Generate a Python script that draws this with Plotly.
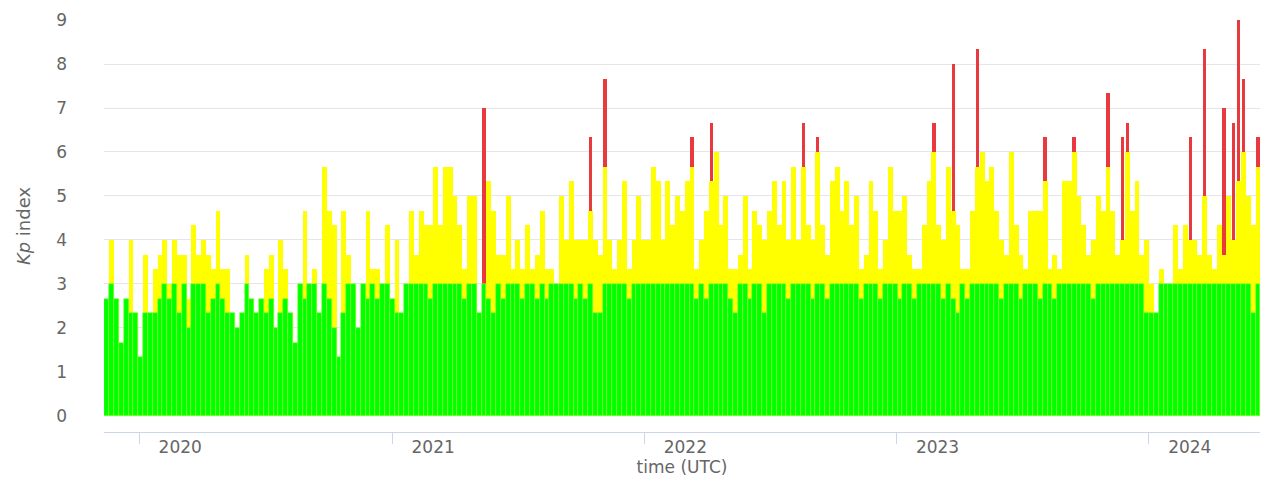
import datetime as dt
import plotly.graph_objects as go

# ---- data (weekly maximum Kp) ----
start_date = "2019-11-15"
step_days = 7

kp_max = [
    2.67, 4, 2.67, 1.67, 2.67, 4, 2.33, 1.33, 3.67, 2.33, 3.33, 3.67, 4, 3, 4, 3.67, 3.67, 2.67, 4.33, 3.67, 4, 3.67, 3.33, 4.67,
    3.33, 3.33, 2.33, 2, 2.33, 3.67, 2.67, 2.33, 2.67, 3.33, 3.67, 2, 4, 3.33, 2.33, 1.67, 3, 4.67, 3, 3.33, 2.33, 5.67, 4.67, 4.33,
    1.33, 4.67, 3.67, 3, 2, 3, 4.67, 3.33, 3.33, 3, 4.33, 2.67, 4, 2.33, 3, 4.67, 3.67, 4.67, 4.33, 4.33, 5.67, 4.33, 5.67,
    5.67, 5, 4.33, 3.33, 5, 5, 2.33, 7, 5.33, 4.67, 3.67, 3.67, 5, 3.33, 4, 3.33, 4.33, 3.33, 3.67, 4.67, 3.33, 3.33, 3, 5,
    4, 5.33, 4, 4, 4, 6.33, 4, 3.67, 7.67, 4, 3.33, 4, 5.33, 3.33, 4, 5, 4, 4, 5.67, 5.33, 4, 5.33, 4.33, 5,
    4.67, 5.33, 6.33, 3.33, 4, 4.67, 6.67, 6, 4.33, 5, 3.33, 3.33, 3.67, 5, 3.33, 4.67, 4.33, 4, 4.67, 5.33, 4.33, 5.33, 4,
    5.67, 4, 6.67, 4.33, 4, 6.33, 4.33, 3.67, 5.33, 5.67, 4.67, 5.33, 4.33, 5, 3.33, 3.67, 5.33, 4.67, 3.33, 4, 5.67, 4.67, 4.67, 5,
    3.67, 3.33, 3.33, 4.33, 5.33, 6.67, 4.33, 4, 5.67, 8, 4.33, 3.33, 3.33, 4.67, 8.33, 6, 5.33, 5.67, 4.67, 4, 3.67, 6, 4.33, 3.67,
    3.33, 4.67, 4.67, 4.67, 6.33, 3.33, 3.67, 3.33, 5.33, 5.33, 6.33, 5, 4.33, 3.67, 4, 5, 4.67, 7.33, 4.67, 3.67, 6.33, 6.67, 4.67, 5.33,
    3.67, 4, 3, 2.33, 3.33, 3, 3, 4.33, 3.33, 4.33, 6.33, 4, 3.67, 8.33, 3.67, 3.33, 4.33, 7, 5, 6.67, 9, 7.67, 5, 4.33, 6.33,
]

kp_quiet = [
    2.67, 3, 2.67, 1.67, 2.67, 2.33, 2.33, 1.33, 2.33, 2.33, 2.33, 2.67, 3, 2.67, 3, 2.33, 3, 2, 3, 3, 3, 2.33, 2.67, 3,
    2.67, 2.33, 2.33, 2, 2.33, 3, 2.67, 2.33, 2.67, 2.33, 2.67, 2, 2.33, 2.67, 2.33, 1.67, 3, 2.67, 3, 3, 2.33, 3, 2.67, 2,
    1.33, 2.33, 3, 3, 2, 3, 2.67, 3, 2.67, 3, 3, 2.67, 2.33, 2.33, 3, 3, 3, 3, 3, 2.67, 3, 3, 3,
    3, 3, 3, 2.67, 3, 3, 2.33, 3, 2.67, 2.33, 3, 2.67, 3, 3, 3, 2.67, 3, 3, 2.67, 3, 2.67, 3, 3, 3,
    3, 3, 2.67, 3, 2.67, 3, 2.33, 2.33, 3, 3, 3, 3, 3, 2.67, 3, 3, 3, 3, 3, 3, 3, 3, 3, 3,
    3, 3, 3, 2.67, 3, 2.67, 3, 3, 3, 3, 2.67, 2.33, 3, 3, 2.67, 3, 3, 2.33, 3, 3, 3, 3, 2.67,
    3, 3, 3, 3, 2.67, 3, 3, 2.67, 3, 3, 3, 3, 3, 3, 2.67, 3, 3, 3, 2.67, 3, 3, 3, 2.67, 3,
    3, 2.67, 3, 3, 3, 3, 3, 2.67, 3, 2.67, 2.33, 3, 2.67, 3, 3, 3, 3, 3, 3, 2.67, 3, 3, 3, 2.67,
    3, 3, 3, 2.67, 3, 3, 2.67, 3, 3, 3, 3, 3, 3, 3, 2.67, 3, 3, 3, 3, 3, 3, 3, 3, 3,
    3, 2.33, 2.33, 2.33, 3, 3, 3, 3, 3, 3, 3, 3, 3, 3, 3, 3, 3, 3, 3, 3, 3, 3, 3, 2.33, 3,
]

# storm weeks: index into the weekly series and the level where the red part starts
storm_index = [78, 100, 103, 121, 125, 144, 147, 171, 175, 180, 194, 200, 207, 210, 211, 224, 227, 231, 233, 234, 235, 238]
storm_base = [3, 4.67, 5.67, 5.67, 5.33, 5.67, 6, 6, 4.67, 5.67, 5.33, 6, 5.67, 4, 6, 4, 5, 3.67, 4, 5.33, 6, 5.67]

year_ticks = ["2020-01-01", "2021-01-01", "2022-01-01", "2023-01-01", "2024-01-01"]
year_labels = ["2020", "2021", "2022", "2023", "2024"]
y_ticks = [0, 1, 2, 3, 4, 5, 6, 7, 8, 9]

# ---- build ----
t0 = dt.date.fromisoformat(start_date)
dates = [t0 + dt.timedelta(days=step_days * i) for i in range(len(kp_max))]

storm_map = dict(zip(storm_index, storm_base))
red_x = [dates[i] for i in storm_index]
red_y = [kp_max[i] for i in storm_index]
yellow_y = [storm_map.get(i, v) for i, v in enumerate(kp_max)]

day_ms = 86400000
GREEN = "#00ff00"
YELLOW = "#ffff00"
RED = "#e8393f"

fig = go.Figure()
fig.add_trace(go.Bar(x=red_x, y=red_y, width=4.8 * day_ms, marker=dict(color=RED, line=dict(width=0)),
                     name="storm", hoverinfo="x+y"))
fig.add_trace(go.Bar(x=dates, y=yellow_y, width=step_days * day_ms, marker=dict(color=YELLOW, line=dict(width=0)),
                     name="active", hoverinfo="skip"))
fig.add_trace(go.Bar(x=dates, y=kp_quiet, width=step_days * day_ms,
                     marker=dict(color=GREEN, line=dict(width=0.6, color="#8cff3c")),
                     name="quiet", hoverinfo="skip"))

label_font = dict(family="DejaVu Sans", size=17, color="#666666")

# the page body has an 8px margin, so the figure is sized to fit the window without overflow
fig.update_layout(
    width=1252, height=469,
    margin=dict(l=96, r=0, t=12, b=45),
    paper_bgcolor="white", plot_bgcolor="white",
    barmode="overlay", bargap=0,
    showlegend=False,
    xaxis=dict(
        type="date",
        range=["2019-11-11", "2024-06-10"],
        tickvals=year_ticks, ticktext=year_labels,
        ticks="outside", ticklen=11, tickwidth=1, tickcolor="#ccd6eb",
        showline=True, linecolor="#ccd6eb", linewidth=1,
        showgrid=False, zeroline=False,
        tickfont=label_font,
        ticklabelshift=41, ticklabelstandoff=-11,
        title=dict(text="time (UTC)", font=dict(family="DejaVu Sans", size=17, color="#666666"), standoff=9),
        automargin=False,
    ),
    yaxis=dict(
        range=[-0.364, 9],
        tickvals=y_ticks,
        showgrid=True, gridcolor="#e6e6e6", gridwidth=1,
        zeroline=False, showline=False, ticks="",
        tickfont=label_font,
        ticklabelstandoff=36,
        title=dict(text="<i>Kp</i> index", font=dict(family="DejaVu Sans", size=18, color="#666666"), standoff=20),
        automargin=False,
    ),
)

fig.write_html("out.html")
